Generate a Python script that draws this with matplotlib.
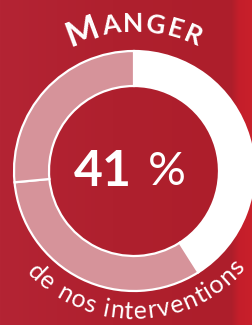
import numpy as np
import matplotlib
matplotlib.use("Agg")
import matplotlib.pyplot as plt
import matplotlib.colors as mcolors
from matplotlib.font_manager import FontProperties

# ── data ────────────────────────────────────────────────────────────────
segments   = ["Manger", "Autres 1", "Autres 2"]
shares     = [41, 32.5, 26.5]
value_text = "41"
title      = "MANGER"
subtitle   = "de nos interventions"

# ── style ───────────────────────────────────────────────────────────────
WHITE = "#FFFFFF"
PINK  = "#D6939A"
seg_colors = [WHITE, PINK, PINK]
BG_STOPS = [(0.0, "#B42434"), (0.45, "#AF202E"), (0.92, "#AD1E2B"),
            (0.95, "#C41E2A"), (1.0, "#C8202B")]

W, H = 252, 325
CX, CY = 134, H - 171
R_OUT, RING = 120, 35

fig = plt.figure(figsize=(W / 100, H / 100), dpi=100)
ax = fig.add_axes([0, 0, 1, 1])

# background gradient
xs = np.linspace(0, 1, W)
pos = [s[0] for s in BG_STOPS]
rgb = np.array([mcolors.to_rgb(s[1]) for s in BG_STOPS])
grad = np.stack([np.interp(xs, pos, rgb[:, k]) for k in range(3)], axis=-1)
ax.imshow(grad[np.newaxis, :, :], extent=[0, W, 0, H], aspect="auto", zorder=0)

# donut
ax.pie(shares, colors=seg_colors, startangle=90, counterclock=False,
       radius=R_OUT, center=(CX, CY),
       wedgeprops=dict(width=RING, edgecolor=WHITE, linewidth=1.6))

ax.set_xlim(0, W)
ax.set_ylim(0, H)
ax.set_aspect("auto")
ax.axis("off")

# centre value
ax.text(CX - 31, CY, value_text, ha="center", va="center", color=WHITE,
        fontsize=36, fontweight="bold", family="Lato")
ax.text(CX + 33, CY - 1, "%", ha="center", va="center", color=WHITE,
        fontsize=34, fontweight="normal", family="Lato")

renderer = fig.canvas.get_renderer()


def _w(ch, fp):
    if ch == " ":
        return fp.get_size_in_points() * 100 / 72 * 0.28
    return renderer.get_text_width_height_descent(ch, fp, ismath=False)[0]


def arc_text(chars, props, r, th_first, th_last, tops_out):
    """Place chars along a circle; first/last char centres at given angles."""
    widths = [_w(c, fp) for c, fp in zip(chars, props)]
    span = r * abs(np.radians(th_last - th_first))
    inner = sum(widths) - widths[0] / 2 - widths[-1] / 2
    track = (span - inner) / (len(chars) - 1)
    d = 0.0
    for i, (c, fp, w) in enumerate(zip(chars, props, widths)):
        if i > 0:
            d += widths[i - 1] / 2 + track + w / 2
        if tops_out:
            th = np.radians(th_first) - d / r
            rot = np.degrees(th) - 90
        else:
            th = np.radians(th_first) + d / r
            rot = np.degrees(th) + 90
        if c == " ":
            continue
        ax.text(CX + r * np.cos(th), CY + r * np.sin(th), c,
                fontproperties=fp, color=WHITE, rotation=rot,
                rotation_mode="anchor", ha="center", va="baseline")


big   = FontProperties(family="Lato", weight="bold", size=25)
small = FontProperties(family="Lato", weight="bold", size=19)
arc_text(list(title), [big] + [small] * (len(title) - 1),
         r=139, th_first=110.5, th_last=66.5, tops_out=True)

sub = FontProperties(family="Lato", weight="normal", size=18)
arc_text(list(subtitle), [sub] * len(subtitle),
         r=148, th_first=-134.0, th_last=-43.0, tops_out=False)

fig.savefig("out.png", dpi=100)
